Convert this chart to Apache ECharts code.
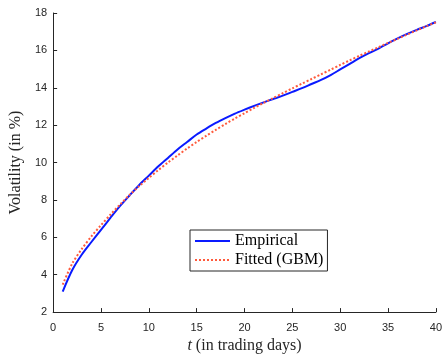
<!DOCTYPE html>
<html>
<head>
<meta charset="utf-8">
<style>
  html, body { margin: 0; padding: 0; background: #fff; }
  #chart { width: 445px; height: 359px; }
</style>
<script src="https://cdn.jsdelivr.net/npm/echarts@6/dist/echarts.min.js"></script>
</head>
<body>
<div id="chart"></div>
<script>
// trading days
const days = [];
for (let d = 1; d <= 40; d++) days.push(d);

// empirical volatility (%)
const empirical = [
  3.1, 4.25, 5.08, 5.75, 6.4, 7.05, 7.68, 8.25, 8.8, 9.3,
  9.8, 10.25, 10.7, 11.1, 11.5, 11.82, 12.12, 12.38, 12.62, 12.83,
  13.03, 13.22, 13.4, 13.58, 13.78, 13.98, 14.2, 14.42, 14.68, 14.98,
  15.28, 15.58, 15.85, 16.1, 16.38, 16.64, 16.88, 17.1, 17.3, 17.52
];

// fitted GBM volatility (%)
const fitted = [
  3.47, 4.6, 5.38, 6.05, 6.65, 7.22, 7.76, 8.27, 8.74, 9.18,
  9.6, 10.0, 10.38, 10.75, 11.1, 11.43, 11.75, 12.06, 12.36, 12.64,
  12.92, 13.19, 13.45, 13.71, 13.97, 14.22, 14.47, 14.72, 14.97, 15.22,
  15.47, 15.71, 15.94, 16.17, 16.4, 16.62, 16.85, 17.07, 17.29, 17.5
];

const xTicks = { min: 0, max: 40, interval: 5 };
const yTicks = { min: 2, max: 18, interval: 2 };

const axisColor = "#262626";
const serif = "'Liberation Serif', 'DejaVu Serif', serif";
const sans = "'Liberation Sans', Arial, sans-serif";

const chart = echarts.init(document.getElementById("chart"), null, { renderer: "canvas" });

const option = {
  animation: false,
  backgroundColor: "#ffffff",
  grid: { left: 46, right: 8, top: 13, bottom: 39, containLabel: false },
  legend: {
    left: 190,
    top: 230,
    orient: "vertical",
    itemWidth: 35,
    itemHeight: 10,
    itemGap: 3,
    padding: [3, 4, 3, 4],
    borderColor: axisColor,
    borderWidth: 1,
    borderRadius: 0,
    backgroundColor: "#ffffff",
    itemStyle: { opacity: 0 },
    textStyle: { fontFamily: serif, fontSize: 16, color: "#000" },
    data: ["Empirical", "Fitted (GBM)"]
  },
  xAxis: {
    type: "value",
    min: xTicks.min,
    max: xTicks.max,
    interval: xTicks.interval,
    name: "{i|t} (in trading days)",
    nameLocation: "middle",
    nameGap: 22,
    nameTextStyle: {
      fontFamily: serif,
      fontSize: 16,
      color: axisColor,
      rich: { i: { fontStyle: "italic", fontFamily: serif, fontSize: 16, color: axisColor } }
    },
    axisLine: { lineStyle: { color: axisColor, width: 1 } },
    axisTick: { inside: true, length: 4, lineStyle: { color: axisColor } },
    axisLabel: { margin: 10, fontFamily: sans, fontSize: 11, color: axisColor },
    splitLine: { show: false }
  },
  yAxis: {
    type: "value",
    min: yTicks.min,
    max: yTicks.max,
    interval: yTicks.interval,
    name: "Volatility (in %)",
    nameLocation: "middle",
    nameGap: 23,
    nameTextStyle: { fontFamily: serif, fontSize: 16, color: axisColor },
    axisLine: { show: true, lineStyle: { color: axisColor, width: 1 } },
    axisTick: { show: true, inside: true, length: 4, lineStyle: { color: axisColor } },
    axisLabel: { margin: 6, fontFamily: sans, fontSize: 11, color: axisColor },
    splitLine: { show: false }
  },
  series: [
    {
      name: "Empirical",
      type: "line",
      data: days.map((d, i) => [d, empirical[i]]),
      symbol: "none",
      smooth: 0.3,
      color: "#0a1aff",
      lineStyle: { color: "#0a1aff", width: 2 }
    },
    {
      name: "Fitted (GBM)",
      type: "line",
      data: days.map((d, i) => [d, fitted[i]]),
      symbol: "none",
      smooth: 0.3,
      color: "#ff5a3c",
      lineStyle: { color: "#ff5a3c", width: 2, type: "dotted" }
    }
  ]
};

chart.setOption(option);
</script>
</body>
</html>
